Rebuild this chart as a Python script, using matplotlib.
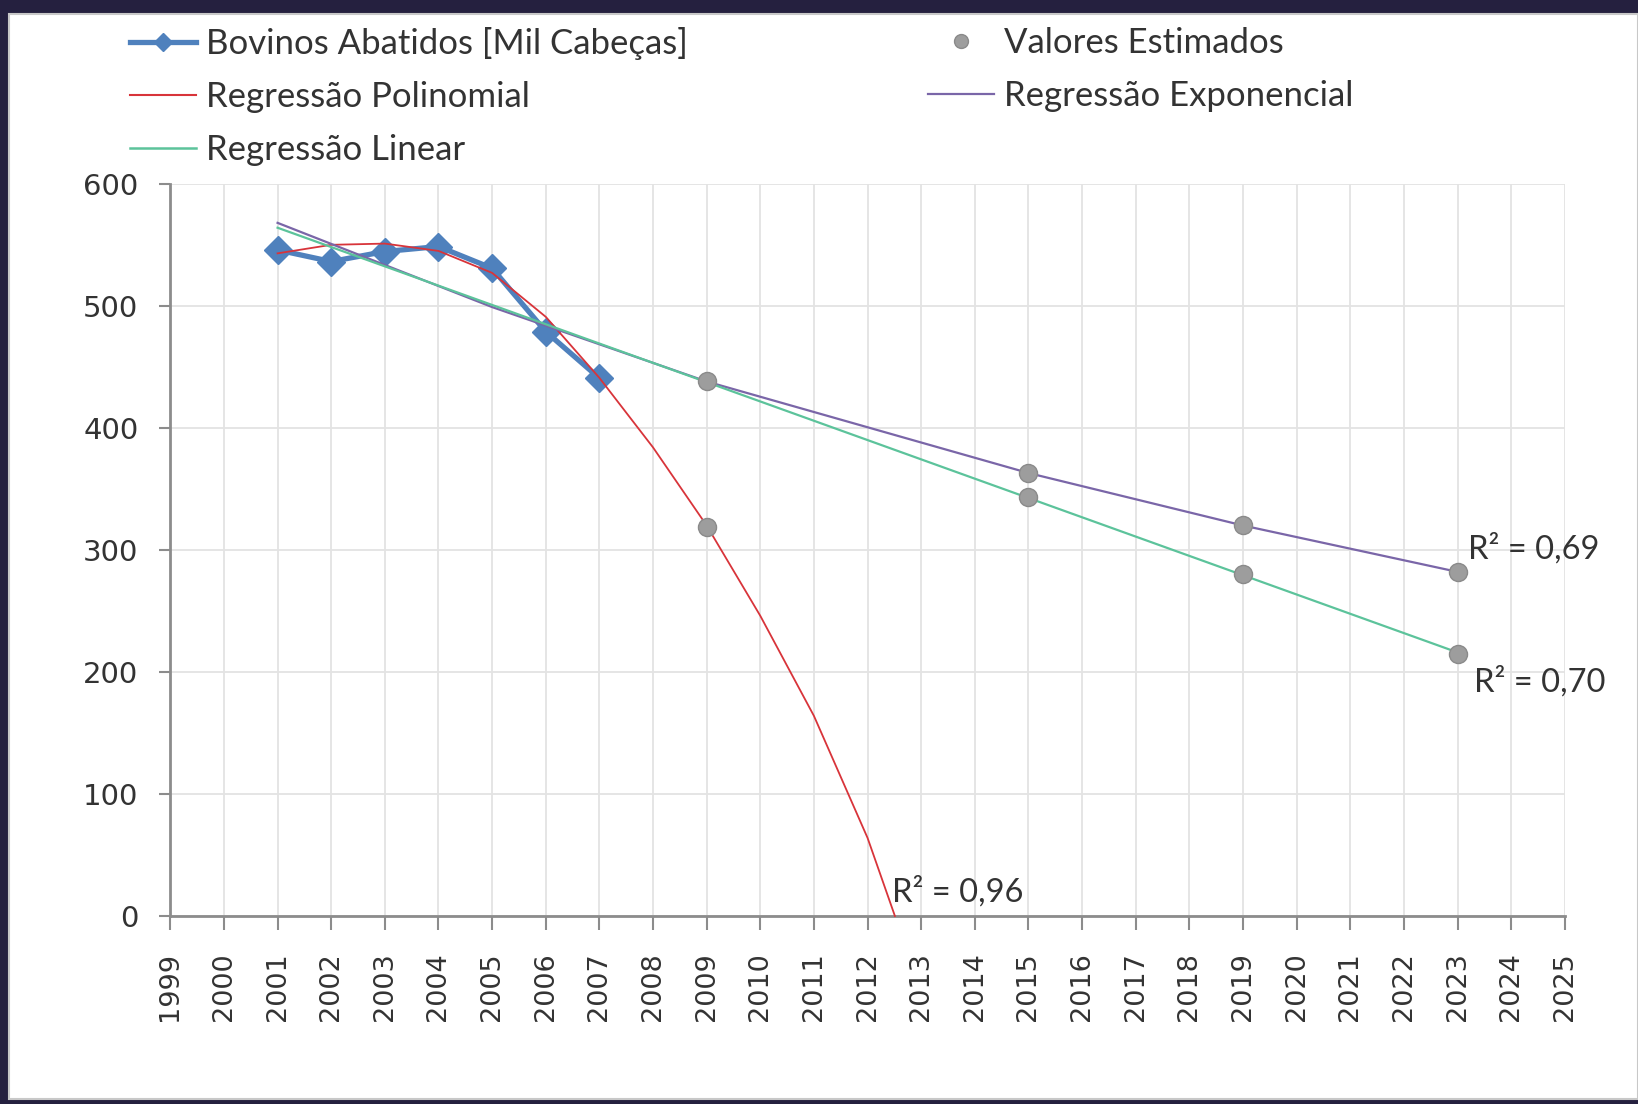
import matplotlib
matplotlib.use("Agg")
import matplotlib.pyplot as plt
from matplotlib.lines import Line2D
from matplotlib.patches import Rectangle

# observed series
years_obs = [2001, 2002, 2003, 2004, 2005, 2006, 2007]
bovinos = [545.8, 536.3, 544.5, 548.6, 530.8, 478.9, 440.7]

# estimated values (gray dots)
years_est = [2009, 2009, 2015, 2015, 2019, 2019, 2023, 2023]
estimados = [438, 319, 363, 343, 320, 280, 282, 215]

# trend lines
poly_x = [2001, 2002, 2003, 2004, 2005, 2006, 2007, 2008, 2009, 2010, 2011, 2012, 2012.51]
poly_y = [543, 550, 551, 545, 527, 491, 441, 384, 320, 246, 164, 64, 0]
lin_x = [2001, 2023]
lin_y = [564, 216]
exp_x = [2001, 2005, 2009, 2015, 2019, 2023]
exp_y = [568, 499, 438, 363, 320, 282]

r2_labels = ["R² = 0,96", "R² = 0,69", "R² = 0,70"]
r2_pos = [(2012.45, 20), (2023.2, 301), (2023.3, 192)]

BLUE = "#4f81bd"
RED = "#d8343a"
GREEN = "#5cc39b"
PURPLE = "#7a66a8"
GRAY = "#9d9d9d"
TXT = "#333333"
LEG_FONT = "Lato"

W, H = 1638, 1104
fig = plt.figure(figsize=(W / 100, H / 100), dpi=100)
fig.patch.set_facecolor("white")

# dark frame around the chart
dark = "#25203f"
fig.patches.append(Rectangle((0, 1 - 13 / H), 1, 13 / H, transform=fig.transFigure, color=dark, zorder=0))
fig.patches.append(Rectangle((0, 0), 8 / W, 1, transform=fig.transFigure, color=dark, zorder=0))
fig.patches.append(Rectangle((0, 0), 1, 4 / H, transform=fig.transFigure, color=dark, zorder=0))
fig.patches.append(Rectangle((9 / W, 5 / H), 1 - 9 / W, 1 - 19 / H, transform=fig.transFigure,
                             fill=False, edgecolor="#c8c8c8", lw=1.5, zorder=0))

ax = fig.add_axes([170.3 / W, 188 / H, (1564.8 - 170.3) / W, (916.1 - 183.9) / H])
ax.set_xlim(1999, 2025)
ax.set_ylim(0, 600)
ax.set_xticks(range(1999, 2026))
ax.set_yticks(range(0, 601, 100))
ax.set_xticklabels([str(y) for y in range(1999, 2026)], rotation=90,
                   fontsize=19.5, color=TXT, family="DejaVu Sans")
ax.set_yticklabels([str(v) for v in range(0, 601, 100)], fontsize=21, color=TXT, family="DejaVu Sans")
ax.tick_params(axis="x", length=10, width=1.5, color="#8c8c8c", pad=16)
ax.tick_params(axis="y", length=8, width=1.5, color="#8c8c8c", pad=15)
ax.grid(True, color="#e3e3e3", lw=1.3)
ax.set_axisbelow(True)
for s in ["top", "right"]:
    ax.spines[s].set_visible(False)
for s in ["left", "bottom"]:
    ax.spines[s].set_color("#8c8c8c")
    ax.spines[s].set_linewidth(2)

ax.plot(years_obs, bovinos, color=BLUE, lw=3.8, marker="D", ms=14, zorder=3)
ax.plot(poly_x, poly_y, color=RED, lw=1.3, zorder=4, clip_on=False)
ax.plot(exp_x, exp_y, color=PURPLE, lw=1.6, zorder=4)
ax.plot(lin_x, lin_y, color=GREEN, lw=1.6, zorder=4)
ax.plot(years_est, estimados, ls="none", marker="o", ms=13, color=GRAY,
        markeredgecolor="#8a8a8a", mew=1, zorder=5)

for lab, (x, y) in zip(r2_labels, r2_pos):
    ax.text(x, y, lab, fontsize=23.5, family=LEG_FONT, color=TXT, va="center", ha="left")

h_bov = Line2D([], [], color=BLUE, lw=3.8, marker="D", ms=9)
h_poly = Line2D([], [], color=RED, lw=1.5)
h_lin = Line2D([], [], color=GREEN, lw=1.8)
h_est = Line2D([], [], ls="none", marker="o", ms=10, color=GRAY, markeredgecolor="#8a8a8a")
h_exp = Line2D([], [], color=PURPLE, lw=1.6)

leg_kw = dict(loc="upper left", frameon=False, borderpad=0, borderaxespad=0,
              handlelength=1.9, handletextpad=0.3, labelspacing=0.6,
              prop={"family": LEG_FONT, "size": 25}, labelcolor=TXT)
fig.legend([h_bov, h_poly, h_lin],
           ["Bovinos Abatidos [Mil Cabeças]", "Regressão Polinomial", "Regressão Linear"],
           bbox_to_anchor=(130 / W, 1 - 27 / H), **leg_kw)
fig.legend([h_est, h_exp], ["Valores Estimados", "Regressão Exponencial"],
           bbox_to_anchor=(928 / W, 1 - 27 / H), **leg_kw)

fig.savefig("out.png", dpi=100)
